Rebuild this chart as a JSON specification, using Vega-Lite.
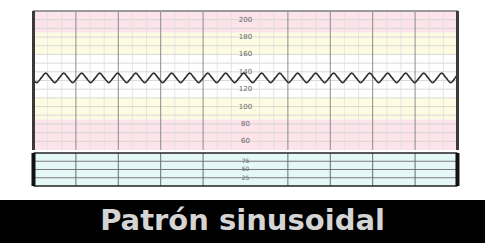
{
  "$schema": "https://vega.github.io/schema/vega-lite/v6.json",
  "width": 485,
  "height": 243,
  "autosize": "none",
  "padding": 0,
  "background": "white",
  "config": {"view": {"stroke": null}},
  "datasets": {
    "fhrBands": [
      {"lo": 185, "hi": 210, "zone": "alerta alta"},
      {"lo": 160, "hi": 185, "zone": "precaución alta"},
      {"lo": 110, "hi": 160, "zone": "normal"},
      {"lo": 85, "hi": 110, "zone": "precaución baja"},
      {"lo": 50, "hi": 85, "zone": "alerta baja"}
    ],
    "fhrGrid": [
      {"v": 60}, {"v": 70}, {"v": 80}, {"v": 90}, {"v": 100}, {"v": 110}, {"v": 120}, {"v": 130},
      {"v": 140}, {"v": 150}, {"v": 160}, {"v": 170}, {"v": 180}, {"v": 190}, {"v": 200}
    ],
    "fhrLabels": [
      {"v": 200}, {"v": 180}, {"v": 160}, {"v": 140}, {"v": 120}, {"v": 100}, {"v": 80}, {"v": 60}
    ],
    "minorX": [
      {"t": 0.333}, {"t": 0.667}, {"t": 1.333}, {"t": 1.667}, {"t": 2.333}, {"t": 2.667},
      {"t": 3.333}, {"t": 3.667}, {"t": 4.333}, {"t": 4.667}, {"t": 5.333}, {"t": 5.667},
      {"t": 6.333}, {"t": 6.667}, {"t": 7.333}, {"t": 7.667}, {"t": 8.333}, {"t": 8.667},
      {"t": 9.333}, {"t": 9.667}
    ],
    "majorX": [
      {"t": 1}, {"t": 2}, {"t": 3}, {"t": 4}, {"t": 6}, {"t": 7}, {"t": 8}, {"t": 9}
    ],
    "edges": [{"t": 0}, {"t": 10}],
    "ucGrid": [{"v": 25}, {"v": 50}, {"v": 75}],
    "ucEdges": [{"v": 0}, {"v": 100}],
    "caption": [{"t": 4.93, "y": 0.5, "label": "Patrón sinusoidal"}],
    "wave": [
      {"t": 0, "v": 130.6}, {"t": 0.076, "v": 127.5}, {"t": 0.182, "v": 133}, {"t": 0.288, "v": 138.5}, {"t": 0.394, "v": 133},
      {"t": 0.501, "v": 127.5}, {"t": 0.607, "v": 133}, {"t": 0.713, "v": 138.5}, {"t": 0.819, "v": 133},
      {"t": 0.925, "v": 127.5}, {"t": 1.031, "v": 133}, {"t": 1.137, "v": 138.5}, {"t": 1.243, "v": 133},
      {"t": 1.349, "v": 127.5}, {"t": 1.456, "v": 133}, {"t": 1.562, "v": 138.5}, {"t": 1.668, "v": 133},
      {"t": 1.774, "v": 127.5}, {"t": 1.88, "v": 133}, {"t": 1.986, "v": 138.5}, {"t": 2.092, "v": 133},
      {"t": 2.198, "v": 127.5}, {"t": 2.305, "v": 133}, {"t": 2.411, "v": 138.5}, {"t": 2.517, "v": 133},
      {"t": 2.623, "v": 127.5}, {"t": 2.729, "v": 133}, {"t": 2.835, "v": 138.5}, {"t": 2.941, "v": 133},
      {"t": 3.047, "v": 127.5}, {"t": 3.154, "v": 133}, {"t": 3.26, "v": 138.5}, {"t": 3.366, "v": 133},
      {"t": 3.472, "v": 127.5}, {"t": 3.578, "v": 133}, {"t": 3.684, "v": 138.5}, {"t": 3.79, "v": 133},
      {"t": 3.896, "v": 127.5}, {"t": 4.003, "v": 133}, {"t": 4.109, "v": 138.5}, {"t": 4.215, "v": 133},
      {"t": 4.321, "v": 127.5}, {"t": 4.427, "v": 133}, {"t": 4.533, "v": 138.5}, {"t": 4.639, "v": 133},
      {"t": 4.745, "v": 127.5}, {"t": 4.852, "v": 133}, {"t": 4.958, "v": 138.5}, {"t": 5.064, "v": 133},
      {"t": 5.17, "v": 127.5}, {"t": 5.276, "v": 133}, {"t": 5.382, "v": 138.5}, {"t": 5.488, "v": 133},
      {"t": 5.594, "v": 127.5}, {"t": 5.701, "v": 133}, {"t": 5.807, "v": 138.5}, {"t": 5.913, "v": 133},
      {"t": 6.019, "v": 127.5}, {"t": 6.125, "v": 133}, {"t": 6.231, "v": 138.5}, {"t": 6.337, "v": 133},
      {"t": 6.443, "v": 127.5}, {"t": 6.55, "v": 133}, {"t": 6.656, "v": 138.5}, {"t": 6.762, "v": 133},
      {"t": 6.868, "v": 127.5}, {"t": 6.974, "v": 133}, {"t": 7.08, "v": 138.5}, {"t": 7.186, "v": 133},
      {"t": 7.292, "v": 127.5}, {"t": 7.399, "v": 133}, {"t": 7.505, "v": 138.5}, {"t": 7.611, "v": 133},
      {"t": 7.717, "v": 127.5}, {"t": 7.823, "v": 133}, {"t": 7.929, "v": 138.5}, {"t": 8.035, "v": 133},
      {"t": 8.141, "v": 127.5}, {"t": 8.248, "v": 133}, {"t": 8.354, "v": 138.5}, {"t": 8.46, "v": 133},
      {"t": 8.566, "v": 127.5}, {"t": 8.672, "v": 133}, {"t": 8.778, "v": 138.5}, {"t": 8.884, "v": 133},
      {"t": 8.99, "v": 127.5}, {"t": 9.097, "v": 133}, {"t": 9.203, "v": 138.5}, {"t": 9.309, "v": 133},
      {"t": 9.415, "v": 127.5}, {"t": 9.521, "v": 133}, {"t": 9.627, "v": 138.5}, {"t": 9.733, "v": 133},
      {"t": 9.839, "v": 127.5}, {"t": 9.946, "v": 133}, {"t": 10, "v": 136.9}
    ]
  },
  "resolve": {"scale": {"y": "independent"}},
  "layer": [
    {
      "data": {"name": "fhrBands"},
      "mark": {"type": "rect"},
      "encoding": {
        "x": {"datum": 0, "type": "quantitative", "scale": {"domain": [-0.79, 10.649], "nice": false, "zero": false}, "axis": null},
        "x2": {"datum": 10},
        "y": {"field": "lo", "type": "quantitative", "scale": {"domain": [-57.05, 222.66], "nice": false, "zero": false}, "axis": null},
        "y2": {"field": "hi"},
        "color": {"field": "zone", "type": "nominal", "legend": null,
          "scale": {"domain": ["alerta alta", "precaución alta", "normal", "precaución baja", "alerta baja"],
                    "range": ["#fce4ea", "#fdfce2", "#ffffff", "#fdfce2", "#fce4ea"]}}
      }
    },
    {
      "data": {"name": "fhrGrid"},
      "mark": {"type": "rule", "color": "#cfcfcf", "strokeWidth": 0.8},
      "encoding": {
        "x": {"datum": 0, "type": "quantitative", "scale": {"domain": [-0.79, 10.649], "nice": false, "zero": false}, "axis": null},
        "x2": {"datum": 10},
        "y": {"field": "v", "type": "quantitative", "scale": {"domain": [-57.05, 222.66], "nice": false, "zero": false}, "axis": null}
      }
    },
    {
      "data": {"name": "minorX"},
      "mark": {"type": "rule", "color": "#dedede", "strokeWidth": 0.8},
      "encoding": {
        "x": {"field": "t", "type": "quantitative", "scale": {"domain": [-0.79, 10.649], "nice": false, "zero": false}, "axis": null},
        "y": {"datum": 50, "type": "quantitative", "scale": {"domain": [-57.05, 222.66], "nice": false, "zero": false}, "axis": null},
        "y2": {"datum": 210}
      }
    },
    {
      "data": {"name": "majorX"},
      "mark": {"type": "rule", "color": "#8a8a8a", "strokeWidth": 1},
      "encoding": {
        "x": {"field": "t", "type": "quantitative", "scale": {"domain": [-0.79, 10.649], "nice": false, "zero": false}, "axis": null},
        "y": {"datum": 50, "type": "quantitative", "scale": {"domain": [-57.05, 222.66], "nice": false, "zero": false}, "axis": null},
        "y2": {"datum": 210}
      }
    },
    {
      "data": {"name": "fhrLabels"},
      "mark": {"type": "text", "fontSize": 7, "color": "#666666", "font": "DejaVu Sans", "baseline": "middle"},
      "encoding": {
        "x": {"datum": 5, "type": "quantitative", "scale": {"domain": [-0.79, 10.649], "nice": false, "zero": false}, "axis": null},
        "y": {"field": "v", "type": "quantitative", "scale": {"domain": [-57.05, 222.66], "nice": false, "zero": false}, "axis": null},
        "text": {"field": "v", "type": "quantitative"}
      }
    },
    {
      "data": {"name": "wave"},
      "mark": {"type": "line", "color": "#2e2e2e", "strokeWidth": 1.6, "interpolate": "monotone"},
      "encoding": {
        "x": {"field": "t", "type": "quantitative", "scale": {"domain": [-0.79, 10.649], "nice": false, "zero": false}, "axis": null},
        "y": {"field": "v", "type": "quantitative", "scale": {"domain": [-57.05, 222.66], "nice": false, "zero": false}, "axis": null}
      }
    },
    {
      "data": {"name": "fhrLabels"},
      "mark": {"type": "rule", "color": "#9a9a9a", "strokeWidth": 1},
      "encoding": {
        "x": {"datum": 0, "type": "quantitative", "scale": {"domain": [-0.79, 10.649], "nice": false, "zero": false}, "axis": null},
        "x2": {"datum": 10},
        "y": {"datum": 210, "type": "quantitative", "scale": {"domain": [-57.05, 222.66], "nice": false, "zero": false}, "axis": null}
      }
    },
    {
      "data": {"name": "edges"},
      "mark": {"type": "rule", "color": "#3a3a3a", "strokeWidth": 3},
      "encoding": {
        "x": {"field": "t", "type": "quantitative", "scale": {"domain": [-0.79, 10.649], "nice": false, "zero": false}, "axis": null},
        "y": {"datum": 50, "type": "quantitative", "scale": {"domain": [-57.05, 222.66], "nice": false, "zero": false}, "axis": null},
        "y2": {"datum": 210}
      }
    },
    {
      "data": {"name": "ucEdges"},
      "mark": {"type": "rect", "color": "#e5f8f8"},
      "encoding": {
        "x": {"datum": 0, "type": "quantitative", "scale": {"domain": [-0.79, 10.649], "nice": false, "zero": false}, "axis": null},
        "x2": {"datum": 10},
        "y": {"datum": 0, "type": "quantitative", "scale": {"domain": [-172.73, 563.64], "nice": false, "zero": false}, "axis": null},
        "y2": {"datum": 100}
      }
    },
    {
      "data": {"name": "ucGrid"},
      "mark": {"type": "rule", "color": "#7a7a7a", "strokeWidth": 1},
      "encoding": {
        "x": {"datum": 0, "type": "quantitative", "scale": {"domain": [-0.79, 10.649], "nice": false, "zero": false}, "axis": null},
        "x2": {"datum": 10},
        "y": {"field": "v", "type": "quantitative", "scale": {"domain": [-172.73, 563.64], "nice": false, "zero": false}, "axis": null}
      }
    },
    {
      "data": {"name": "majorX"},
      "mark": {"type": "rule", "color": "#6a6a6a", "strokeWidth": 1},
      "encoding": {
        "x": {"field": "t", "type": "quantitative", "scale": {"domain": [-0.79, 10.649], "nice": false, "zero": false}, "axis": null},
        "y": {"datum": 0, "type": "quantitative", "scale": {"domain": [-172.73, 563.64], "nice": false, "zero": false}, "axis": null},
        "y2": {"datum": 100}
      }
    },
    {
      "data": {"name": "ucGrid"},
      "mark": {"type": "text", "fontSize": 6, "color": "#666666", "font": "DejaVu Sans", "baseline": "middle"},
      "encoding": {
        "x": {"datum": 5, "type": "quantitative", "scale": {"domain": [-0.79, 10.649], "nice": false, "zero": false}, "axis": null},
        "y": {"field": "v", "type": "quantitative", "scale": {"domain": [-172.73, 563.64], "nice": false, "zero": false}, "axis": null},
        "text": {"field": "v", "type": "quantitative"}
      }
    },
    {
      "data": {"name": "ucEdges"},
      "mark": {"type": "rule", "color": "#222222", "strokeWidth": 1.5},
      "encoding": {
        "x": {"datum": 0, "type": "quantitative", "scale": {"domain": [-0.79, 10.649], "nice": false, "zero": false}, "axis": null},
        "x2": {"datum": 10},
        "y": {"field": "v", "type": "quantitative", "scale": {"domain": [-172.73, 563.64], "nice": false, "zero": false}, "axis": null}
      }
    },
    {
      "data": {"name": "edges"},
      "mark": {"type": "rule", "color": "#111111", "strokeWidth": 4},
      "encoding": {
        "x": {"field": "t", "type": "quantitative", "scale": {"domain": [-0.79, 10.649], "nice": false, "zero": false}, "axis": null},
        "y": {"datum": 0, "type": "quantitative", "scale": {"domain": [-172.73, 563.64], "nice": false, "zero": false}, "axis": null},
        "y2": {"datum": 100}
      }
    },
    {
      "data": {"name": "caption"},
      "mark": {"type": "rect", "color": "#000000"},
      "encoding": {
        "x": {"datum": -0.79, "type": "quantitative", "scale": {"domain": [-0.79, 10.649], "nice": false, "zero": false}, "axis": null},
        "x2": {"datum": 10.649},
        "y": {"datum": 0, "type": "quantitative", "scale": {"domain": [0, 5.651], "nice": false, "zero": false}, "axis": null},
        "y2": {"datum": 1}
      }
    },
    {
      "data": {"name": "caption"},
      "mark": {"type": "text", "fontSize": 29, "color": "#d4d4d4", "font": "DejaVu Sans", "fontWeight": "bold", "baseline": "middle", "align": "center"},
      "encoding": {
        "x": {"field": "t", "type": "quantitative", "scale": {"domain": [-0.79, 10.649], "nice": false, "zero": false}, "axis": null},
        "y": {"field": "y", "type": "quantitative", "scale": {"domain": [0, 5.651], "nice": false, "zero": false}, "axis": null},
        "text": {"field": "label", "type": "nominal"}
      }
    }
  ]
}
